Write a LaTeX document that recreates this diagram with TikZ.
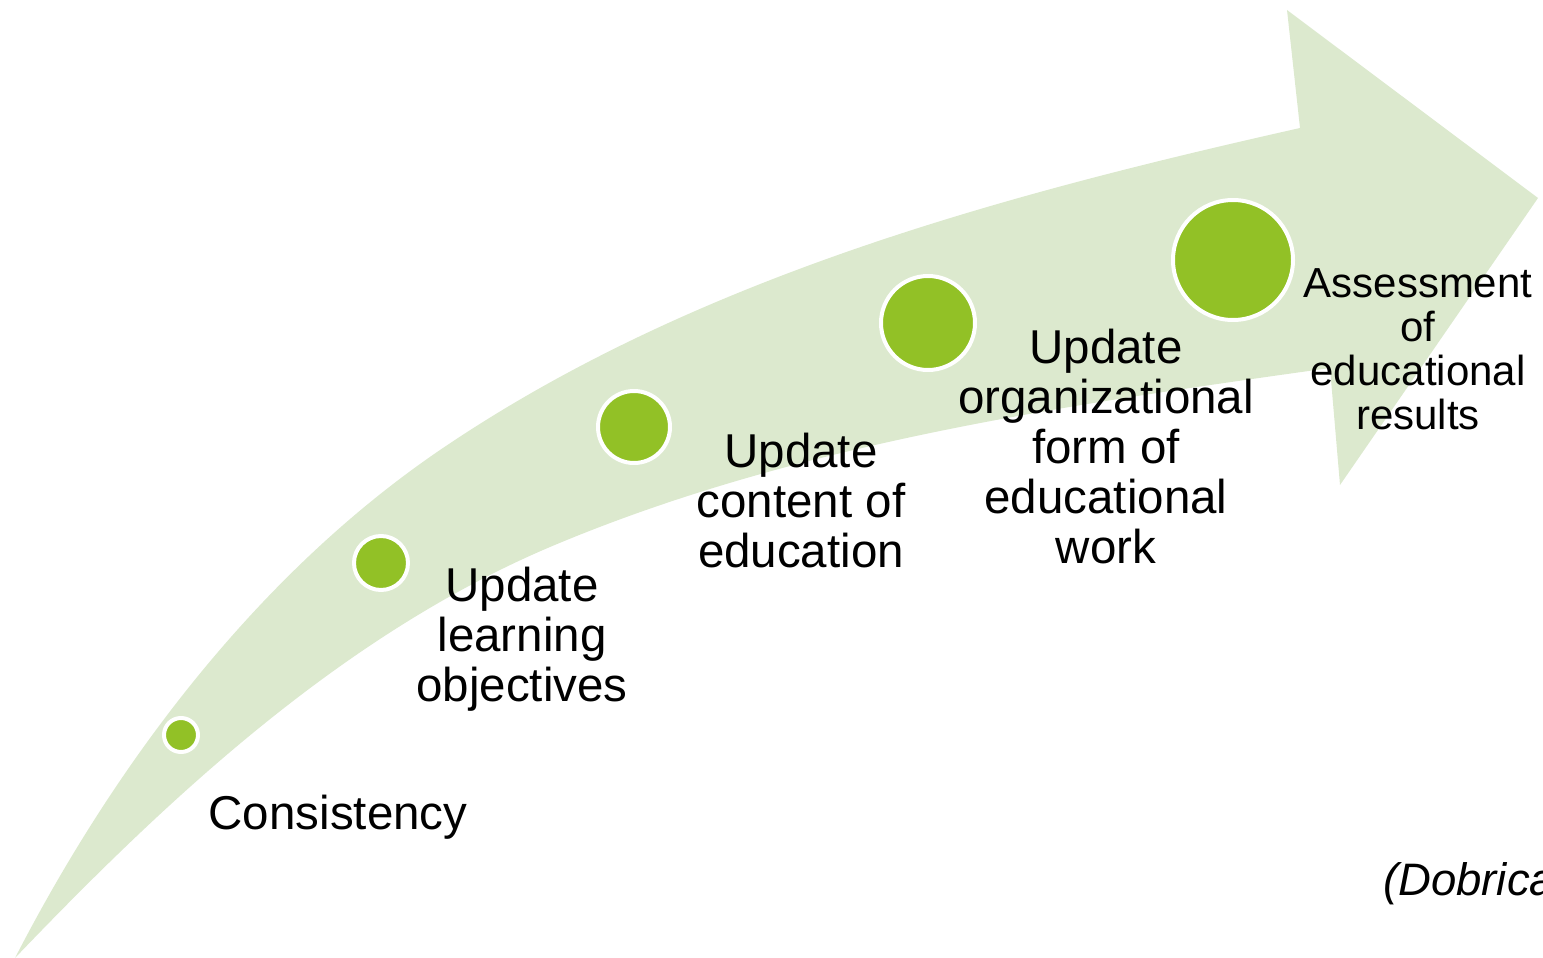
\documentclass[tikz,border=0pt]{standalone}
\usepackage{fontspec}
\setmainfont{Liberation Sans}
\definecolor{bandgreen}{RGB}{220,233,206}
\definecolor{dotgreen}{RGB}{146,193,38}
\tikzset{
  dot/.style={circle, fill=dotgreen, draw=white, line width=4pt, inner sep=0pt},
  lbl/.style={align=center, inner sep=0pt, font=\fontsize{47.5}{50}\selectfont},
  lblsmall/.style={align=center, inner sep=0pt, font=\fontsize{42}{44}\selectfont},
}
\begin{document}
\begin{tikzpicture}[x=1pt, y=-1pt]
\useasboundingbox (0,0) rectangle (1543,958);
\fill[bandgreen] (15,958) .. controls (116,762) and (258,574) .. (440,450)
  .. controls (693,278) and (1002,195) .. (1300,128)
  -- (1287,10) -- (1538,198) -- (1340,485) -- (1330,368)
  .. controls (1066,405) and (796,443) .. (550,547)
  .. controls (343,635) and (170,796) .. (15,958) -- cycle;

\node[dot, minimum size=34pt] (c1) at (181,735) {};
\node[dot, minimum size=54pt] (c2) at (381,563) {};
\node[dot, minimum size=72pt] (c3) at (634,427) {};
\node[dot, minimum size=94pt] (c4) at (928,323) {};
\node[dot, minimum size=120pt] (c5) at (1233,260) {};

\node[lbl] (t1) at (338,817) {Consistency};
\node[lbl] (t2) at (522,639) {Update\\learning\\objectives};
\node[lbl] (t3) at (801,501) {Update\\content of\\education};
\node[lbl] (t4) at (1106,447) {Update\\organizational\\form of\\educational\\work};
\node[lblsmall] (t5) at (1418,349) {Assessment\\of\\educational\\results};
\node[anchor=west, inner sep=0pt, font=\fontsize{45.5}{48}\selectfont\itshape] (src) at (1383,884) {(Dobrica};
\end{tikzpicture}
\end{document}
